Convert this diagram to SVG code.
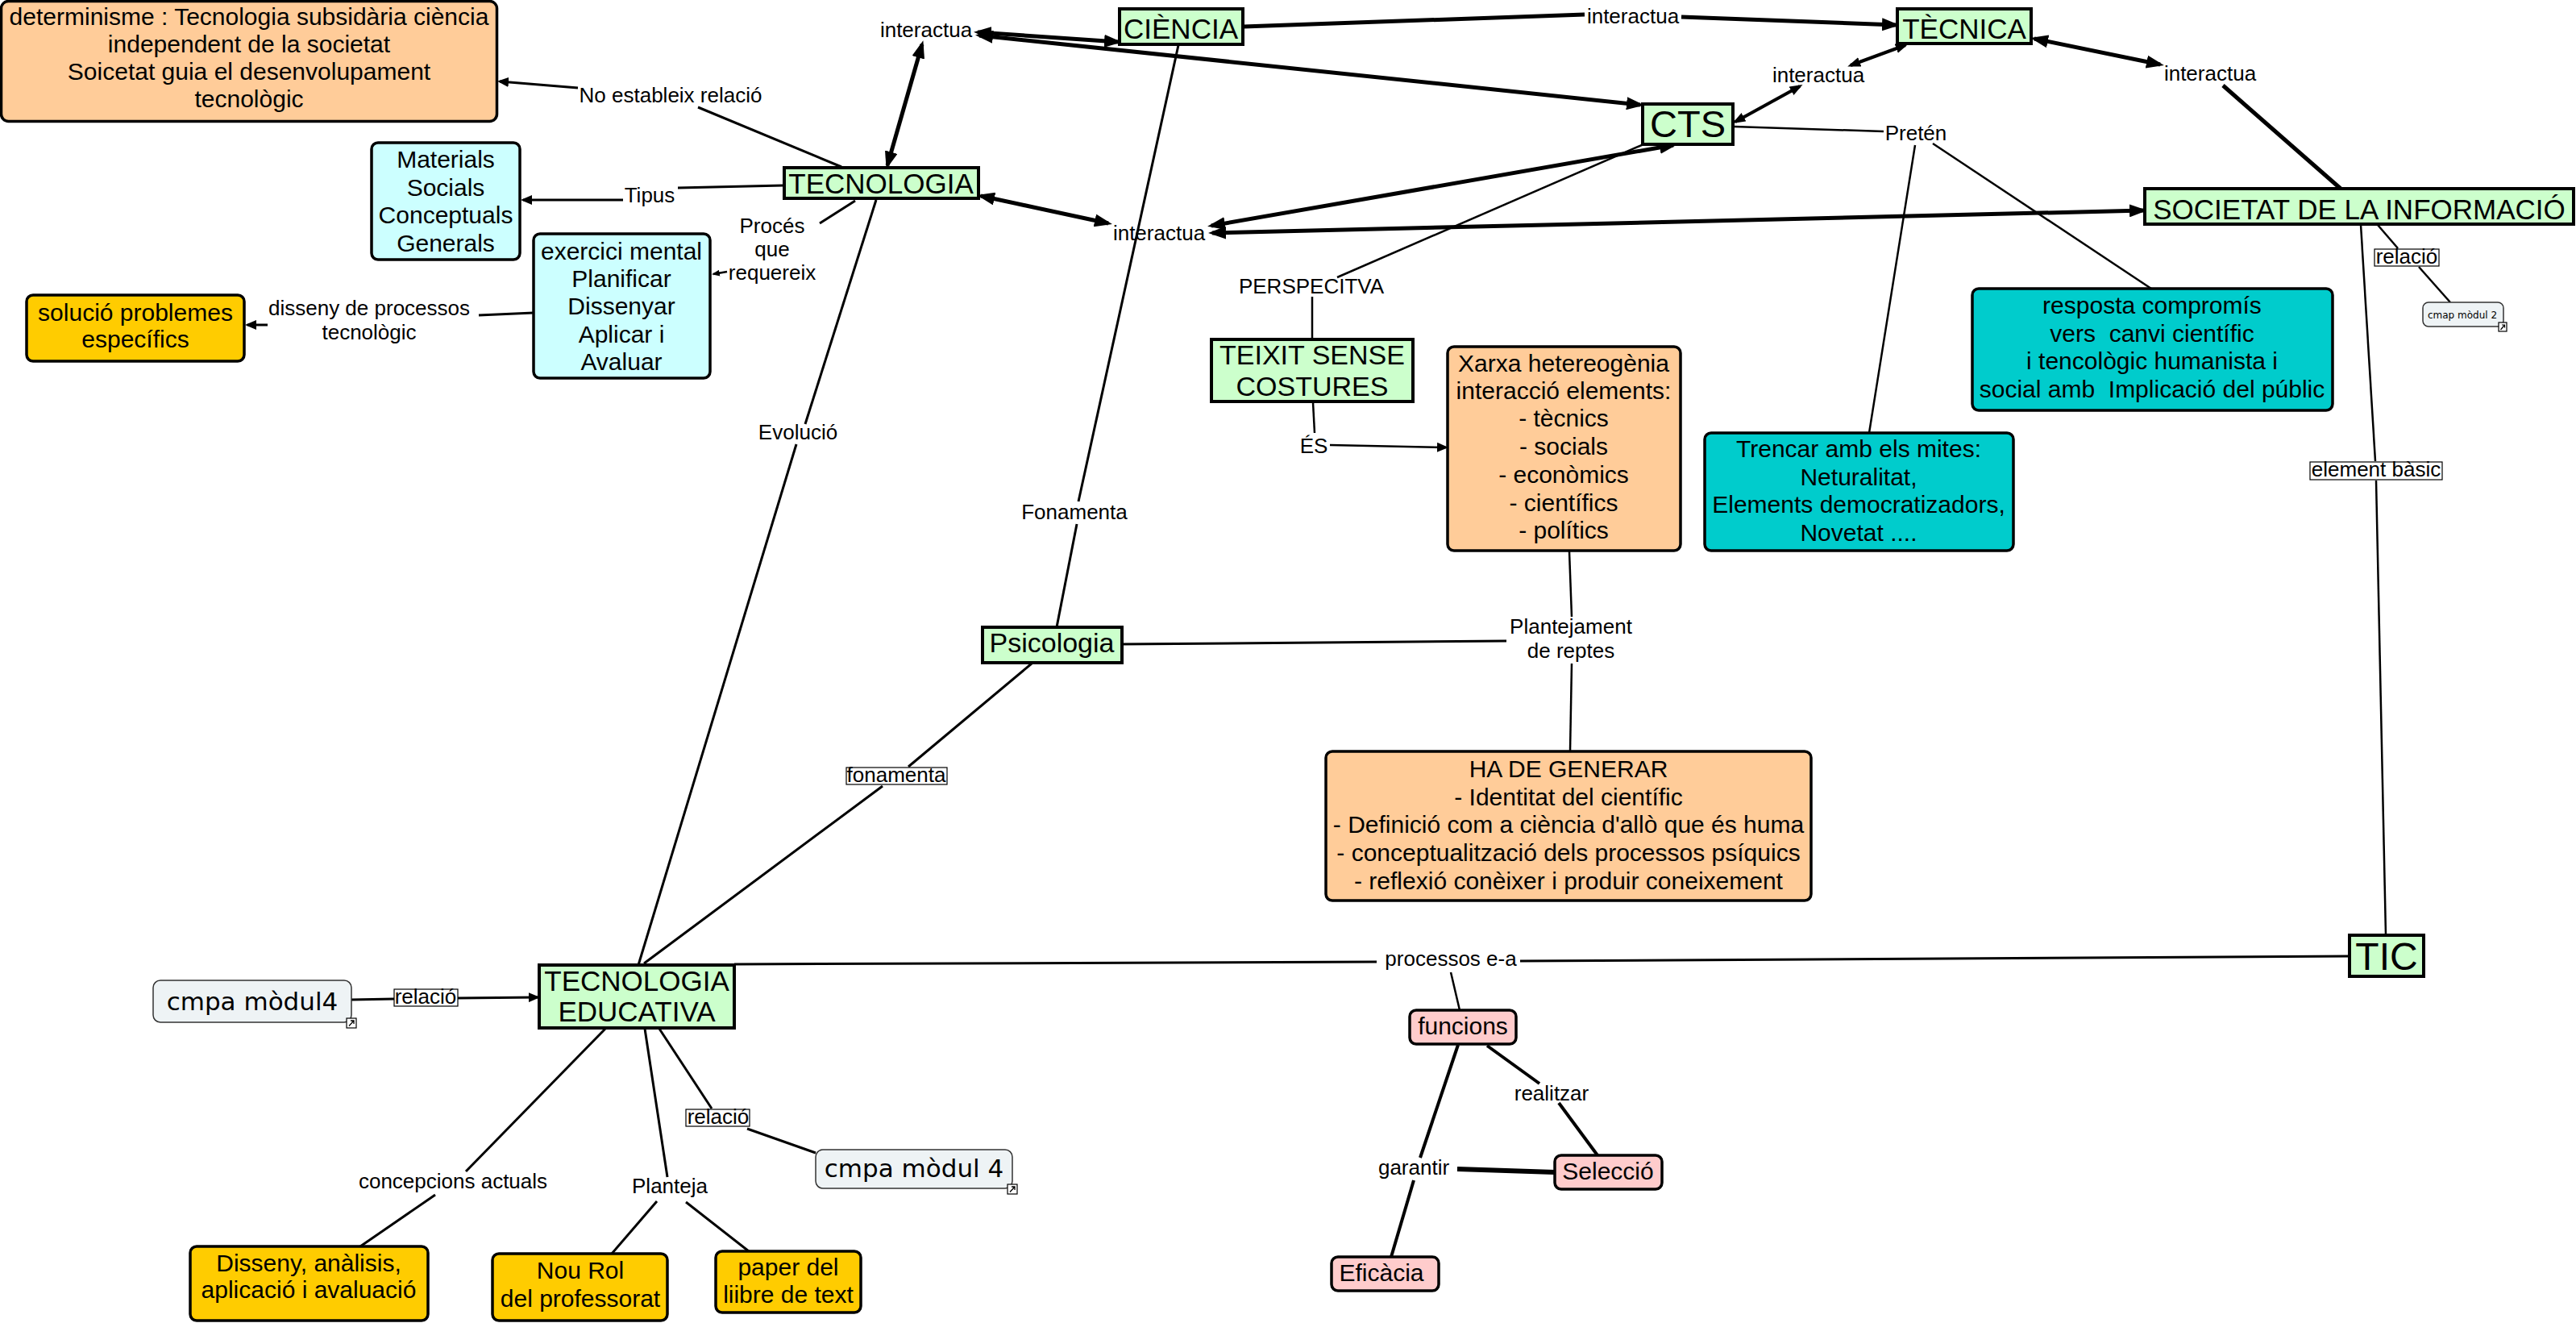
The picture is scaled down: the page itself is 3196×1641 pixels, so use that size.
<svg xmlns="http://www.w3.org/2000/svg" width="3196" height="1641" viewBox="0 0 3196 1641">
<defs>
<style>
.nt{font-family:"Liberation Sans",Arial,sans-serif;font-size:30px;fill:#000;text-anchor:middle}
.gt{font-family:"Liberation Sans",Arial,sans-serif;font-size:35px;fill:#000;text-anchor:middle}
.lt{font-family:"Liberation Sans",Arial,sans-serif;font-size:26px;fill:#000;text-anchor:middle}
.ct{font-family:"DejaVu Sans",Verdana,sans-serif;font-size:31px;fill:#000;text-anchor:middle}
.green{fill:#CCFFCC;stroke:#000;stroke-width:4}
.peach{fill:#FFCC99;stroke:#000;stroke-width:3.5}
.cyan{fill:#CCFFFF;stroke:#000;stroke-width:3.5}
.gold{fill:#FFCC00;stroke:#000;stroke-width:3.5}
.teal{fill:#00CCCC;stroke:#000;stroke-width:3.5}
.pink{fill:#FFCCCC;stroke:#000;stroke-width:3.5}
.cmap{fill:#EEF3F5;stroke:#333;stroke-width:1.5}
.lbox{fill:#fff;stroke:#000;stroke-width:1.2}
.icon{fill:#fff;stroke:#000;stroke-width:1.2}
.c{fill:none;stroke:#000;stroke-linecap:butt}
.w2{stroke-width:2.5}
.w3{stroke-width:3}
.w4{stroke-width:4}
.w5{stroke-width:5}
.w6{stroke-width:6}
.pre{white-space:pre}
</style>
<marker id="ab" viewBox="0 0 22 16" refX="17" refY="8" markerWidth="22" markerHeight="16" markerUnits="userSpaceOnUse" orient="auto-start-reverse"><path d="M0,0 L22,8 L0,16 z" fill="#000"/></marker>
<marker id="am" viewBox="0 0 16 12" refX="12" refY="6" markerWidth="16" markerHeight="12" markerUnits="userSpaceOnUse" orient="auto-start-reverse"><path d="M0,0 L16,6 L0,12 z" fill="#000"/></marker>
<marker id="as" viewBox="0 0 14 12" refX="11" refY="6" markerWidth="14" markerHeight="12" markerUnits="userSpaceOnUse" orient="auto-start-reverse"><path d="M0,0 L14,6 L0,12 z" fill="#000"/></marker>
<marker id="at" viewBox="0 0 10 8" refX="8" refY="4" markerWidth="10" markerHeight="8" markerUnits="userSpaceOnUse" orient="auto-start-reverse"><path d="M0,0 L10,4 L0,8 z" fill="#000"/></marker>
</defs>
<rect x="0" y="0" width="3196" height="1641" fill="#fff"/>

<g id="connectors">
<line class="c w5" x1="1213" y1="40" x2="1387" y2="52" marker-start="url(#ab)" marker-end="url(#ab)"/>
<line class="c w5" x1="1215" y1="44" x2="2035" y2="130" marker-start="url(#ab)" marker-end="url(#ab)"/>
<line class="c w5" x1="1144" y1="55" x2="1101" y2="205" marker-start="url(#ab)" marker-end="url(#ab)"/>
<line class="c w5" x1="1543" y1="33" x2="1966" y2="18"/>
<line class="c w5" x1="2086" y1="21" x2="2352" y2="31" marker-end="url(#ab)"/>
<line class="c w5" x1="2524" y1="48" x2="2680" y2="80" marker-start="url(#ab)" marker-end="url(#ab)"/>
<line class="c w5" x1="2758" y1="106" x2="2904" y2="234"/>
<line class="c w4" x1="2296" y1="81" x2="2364" y2="56" marker-start="url(#am)" marker-end="url(#am)"/>
<line class="c w4" x1="2233" y1="107" x2="2153" y2="151" marker-start="url(#am)" marker-end="url(#am)"/>
<line class="c w5" x1="1217" y1="243" x2="1375" y2="277" marker-start="url(#ab)" marker-end="url(#ab)"/>
<line class="c w5" x1="1503" y1="280" x2="2076" y2="180" marker-start="url(#ab)" marker-end="url(#ab)"/>
<line class="c w5" x1="1504" y1="289" x2="2659" y2="261" marker-start="url(#ab)" marker-end="url(#ab)"/>
<line class="c w3" x1="1044" y1="207" x2="866" y2="133"/>
<line class="c w3" x1="717" y1="109" x2="620" y2="101" marker-end="url(#as)"/>
<line class="c w3" x1="972" y1="230" x2="841" y2="233"/>
<line class="c w3" x1="773" y1="248" x2="649" y2="248" marker-end="url(#as)"/>
<line class="c w3" x1="1061" y1="249" x2="1017" y2="277"/>
<line class="c w2" x1="902" y1="337" x2="885" y2="340" marker-end="url(#at)"/>
<line class="c w3" x1="662" y1="388" x2="594" y2="391"/>
<line class="c w3" x1="332" y1="403" x2="307" y2="403" marker-end="url(#as)"/>
<line class="c w3" x1="1087" y1="248" x2="999" y2="526"/>
<line class="c w3" x1="988" y1="551" x2="792" y2="1197"/>
<line class="c w3" x1="1462" y1="56" x2="1338" y2="622"/>
<line class="c w3" x1="1336" y1="650" x2="1311" y2="778"/>
<line class="c w3" x1="1280" y1="823" x2="1127" y2="951"/>
<line class="c w3" x1="1095" y1="975" x2="799" y2="1195"/>
<line class="c w3" x1="1392" y1="799" x2="1869" y2="795"/>
<line class="c w2" x1="1947" y1="684" x2="1950" y2="765"/>
<line class="c w2" x1="1950" y1="823" x2="1948" y2="932"/>
<line class="c w2" x1="2039" y1="179" x2="1659" y2="344"/>
<line class="c w2" x1="1628" y1="368" x2="1628" y2="421"/>
<line class="c w2" x1="1629" y1="499" x2="1631" y2="537"/>
<line class="c w2" x1="1650" y1="552" x2="1794" y2="555" marker-end="url(#as)"/>
<line class="c w2" x1="2151" y1="157" x2="2337" y2="163"/>
<line class="c w2" x1="2398" y1="178" x2="2669" y2="358"/>
<line class="c w2" x1="2376" y1="180" x2="2319" y2="537"/>
<line class="c w2" x1="2950" y1="279" x2="2975" y2="308"/>
<line class="c w2" x1="3001" y1="331" x2="3040" y2="375"/>
<line class="c w2" x1="2929" y1="279" x2="2947" y2="572"/>
<line class="c w2" x1="2948" y1="596" x2="2960" y2="1160"/>
<line class="c w3" x1="911" y1="1196" x2="1708" y2="1193"/>
<line class="c w3" x1="1886" y1="1192" x2="2915" y2="1186"/>
<line class="c w2" x1="1800" y1="1206" x2="1811" y2="1253"/>
<line class="c w4" x1="1845" y1="1297" x2="1910" y2="1344"/>
<line class="c w4" x1="1934" y1="1368" x2="1982" y2="1433"/>
<line class="c w4" x1="1809" y1="1296" x2="1762" y2="1436"/>
<line class="c w6" x1="1929" y1="1454" x2="1808" y2="1450"/>
<line class="c w4" x1="1754" y1="1464" x2="1726" y2="1559"/>
<line class="c w3" x1="436" y1="1240" x2="489" y2="1239"/>
<line class="c w3" x1="568" y1="1238" x2="667" y2="1237" marker-end="url(#as)"/>
<line class="c w3" x1="751" y1="1276" x2="578" y2="1453"/>
<line class="c w3" x1="540" y1="1482" x2="447" y2="1546"/>
<line class="c w3" x1="800" y1="1276" x2="828" y2="1460"/>
<line class="c w3" x1="815" y1="1490" x2="759" y2="1555"/>
<line class="c w3" x1="851" y1="1491" x2="929" y2="1552"/>
<line class="c w3" x1="818" y1="1276" x2="883" y2="1375"/>
<line class="c w3" x1="927" y1="1400" x2="1012" y2="1430"/>
</g>

<g id="labels">
<text class="lt" x="832" y="127">No estableix relació</text>
<text class="lt" x="806" y="251">Tipus</text>
<text class="lt" x="1149" y="46">interactua</text>
<text class="lt" x="2026" y="29">interactua</text>
<text class="lt" x="2256" y="102">interactua</text>
<text class="lt" x="2742" y="100">interactua</text>
<text class="lt" x="1438" y="298">interactua</text>
<text class="lt"><tspan x="958" y="289">Procés</tspan><tspan x="958" y="318">que</tspan><tspan x="958" y="347">requereix</tspan></text>
<text class="lt"><tspan x="458" y="391">disseny de processos</tspan><tspan x="458" y="421">tecnològic</tspan></text>
<text class="lt" x="990" y="545">Evolució</text>
<text class="lt" x="1333" y="644">Fonamenta</text>
<rect class="lbox" x="1050" y="952" width="125" height="21"/>
<text class="lt" x="1112" y="970">fonamenta</text>
<text class="lt" x="1627" y="364">PERSPECITVA</text>
<text class="lt" x="1630" y="562">ÉS</text>
<text class="lt" x="2377" y="174">Pretén</text>
<text class="lt"><tspan x="1949" y="786">Plantejament</tspan><tspan x="1949" y="816">de reptes</tspan></text>
<rect class="lbox" x="2946" y="309" width="80" height="21"/>
<text class="lt" x="2986" y="327">relació</text>
<rect class="lbox" x="2866" y="573" width="164" height="22"/>
<text class="lt" x="2948" y="591">element bàsic</text>
<text class="lt" x="1800" y="1198">processos e-a</text>
<text class="lt" x="1925" y="1365">realitzar</text>
<text class="lt" x="1754" y="1457">garantir</text>
<rect class="lbox" x="489" y="1227" width="79" height="21"/>
<text class="lt" x="528" y="1245">relació</text>
<text class="lt" x="562" y="1474">concepcions actuals</text>
<text class="lt" x="831" y="1480">Planteja</text>
<rect class="lbox" x="851" y="1376" width="79" height="21"/>
<text class="lt" x="891" y="1394">relació</text>
</g>

<g id="n-determinisme">
<rect class="peach" x="1.5" y="1.5" width="615" height="149" rx="9"/>
<text class="nt"><tspan x="309" y="31">determinisme : Tecnologia subsidària ciència</tspan><tspan x="309" y="65">independent de la societat</tspan><tspan x="309" y="99">Soicetat guia el desenvolupament</tspan><tspan x="309" y="133">tecnològic</tspan></text>
</g>
<g id="n-materials">
<rect class="cyan" x="461" y="177" width="184" height="145" rx="8"/>
<text class="nt"><tspan x="553" y="208">Materials</tspan><tspan x="553" y="243">Socials</tspan><tspan x="553" y="277">Conceptuals</tspan><tspan x="553" y="312">Generals</tspan></text>
</g>
<g id="n-exercici">
<rect class="cyan" x="662" y="290" width="219" height="179" rx="8"/>
<text class="nt"><tspan x="771" y="322">exercici mental</tspan><tspan x="771" y="356">Planificar</tspan><tspan x="771" y="390">Dissenyar</tspan><tspan x="771" y="425">Aplicar i</tspan><tspan x="771" y="459">Avaluar</tspan></text>
</g>
<g id="n-solucio">
<rect class="gold" x="33" y="366" width="270" height="82" rx="8"/>
<text class="nt"><tspan x="168" y="398">solució problemes</tspan><tspan x="168" y="431">específics</tspan></text>
</g>
<g id="n-tecnologia">
<rect class="green" x="973" y="208" width="241" height="38"/>
<text class="gt" x="1093" y="240">TECNOLOGIA</text>
</g>
<g id="n-ciencia">
<rect class="green" x="1389" y="11" width="153" height="44"/>
<text class="gt" x="1465" y="48">CIÈNCIA</text>
</g>
<g id="n-tecnica">
<rect class="green" x="2354" y="11" width="166" height="43"/>
<text class="gt" x="2437" y="48">TÈCNICA</text>
</g>
<g id="n-cts">
<rect class="green" x="2038" y="129" width="112" height="50"/>
<text class="gt" x="2094" y="170" style="font-size:47px">CTS</text>
</g>
<g id="n-societat">
<rect class="green" x="2661" y="234" width="532" height="44"/>
<text class="gt" x="2927" y="272">SOCIETAT DE LA INFORMACIÓ</text>
</g>
<g id="n-cmap2">
<rect class="cmap" x="3006" y="375" width="100" height="30" rx="7"/>
<text class="ct" x="3055" y="395" style="font-size:12px">cmap mòdul 2</text>
<rect class="icon" x="3100" y="400" width="10" height="11"/>
<path d="M3102.5,409 L3107.5,403 M3104,403 L3107.5,403 L3107.5,406.5" fill="none" stroke="#000" stroke-width="1.2"/>
</g>
<g id="n-teixit">
<rect class="green" x="1503" y="421" width="250" height="77"/>
<text class="gt" style="font-size:34px"><tspan x="1628" y="452">TEIXIT SENSE</tspan><tspan x="1628" y="491">COSTURES</tspan></text>
</g>
<g id="n-xarxa">
<rect class="peach" x="1796" y="430" width="289" height="253" rx="8"/>
<text class="nt"><tspan x="1940" y="461">Xarxa hetereogènia</tspan><tspan x="1940" y="495">interacció elements:</tspan><tspan x="1940" y="529">- tècnics</tspan><tspan x="1940" y="564">- socials</tspan><tspan x="1940" y="599">- econòmics</tspan><tspan x="1940" y="634">- científics</tspan><tspan x="1940" y="668">- polítics</tspan></text>
</g>
<g id="n-trencar">
<rect class="teal" x="2115" y="537" width="383" height="146" rx="8"/>
<text class="nt"><tspan x="2306" y="567">Trencar amb els mites:</tspan><tspan x="2306" y="602">Neturalitat,</tspan><tspan x="2306" y="636">Elements democratizadors,</tspan><tspan x="2306" y="671">Novetat ....</tspan></text>
</g>
<g id="n-resposta">
<rect class="teal" x="2447" y="358" width="447" height="151" rx="8"/>
<text class="nt pre"><tspan x="2670" y="389">resposta compromís</tspan><tspan x="2670" y="424">vers  canvi científic</tspan><tspan x="2670" y="458">i tencològic humanista i</tspan><tspan x="2670" y="493">social amb  Implicació del públic</tspan></text>
</g>
<g id="n-psicologia">
<rect class="green" x="1219" y="778" width="173" height="44"/>
<text class="gt" x="1305" y="809" style="font-size:34px">Psicologia</text>
</g>
<g id="n-hadegenerar">
<rect class="peach" x="1645" y="932" width="602" height="185" rx="8"/>
<text class="nt"><tspan x="1946" y="964">HA DE GENERAR</tspan><tspan x="1946" y="999">- Identitat del científic</tspan><tspan x="1946" y="1033">- Definició com a ciència d'allò que és huma</tspan><tspan x="1946" y="1068">- conceptualització dels processos psíquics</tspan><tspan x="1946" y="1103">- reflexió conèixer i produir coneixement</tspan></text>
</g>
<g id="n-tic">
<rect class="green" x="2915" y="1160" width="92" height="51"/>
<text class="gt" x="2961" y="1203" style="font-size:48px">TIC</text>
</g>
<g id="n-tecedu">
<rect class="green" x="669" y="1197" width="242" height="78"/>
<text class="gt"><tspan x="790" y="1229">TECNOLOGIA</tspan><tspan x="790" y="1267">EDUCATIVA</tspan></text>
</g>
<g id="n-cmpa4a">
<rect class="cmap" x="190" y="1216" width="246" height="52" rx="9"/>
<text class="ct" x="313" y="1253">cmpa mòdul4</text>
<rect class="icon" x="430" y="1263" width="12" height="12"/>
<path d="M433,1272.5 L439,1266 M435,1266 L439,1266 L439,1270" fill="none" stroke="#000" stroke-width="1.3"/>
</g>
<g id="n-cmpa4b">
<rect class="cmap" x="1012" y="1426" width="244" height="48" rx="9"/>
<text class="ct" x="1134" y="1460">cmpa mòdul 4</text>
<rect class="icon" x="1250" y="1469" width="12" height="12"/>
<path d="M1253,1478.5 L1259,1472 M1255,1472 L1259,1472 L1259,1476" fill="none" stroke="#000" stroke-width="1.3"/>
</g>
<g id="n-disseny">
<rect class="gold" x="236" y="1546" width="295" height="92" rx="8"/>
<text class="nt"><tspan x="383" y="1577">Disseny, anàlisis,</tspan><tspan x="383" y="1610">aplicació i avaluació</tspan></text>
</g>
<g id="n-nourol">
<rect class="gold" x="611" y="1555" width="217" height="83" rx="8"/>
<text class="nt"><tspan x="720" y="1586">Nou Rol</tspan><tspan x="720" y="1621">del professorat</tspan></text>
</g>
<g id="n-paper">
<rect class="gold" x="888" y="1552" width="180" height="76" rx="8"/>
<text class="nt"><tspan x="978" y="1582">paper del</tspan><tspan x="978" y="1616">liibre de text</tspan></text>
</g>
<g id="n-funcions">
<rect class="pink" x="1749" y="1253" width="132" height="42" rx="8"/>
<text class="nt" x="1815" y="1283">funcions</text>
</g>
<g id="n-seleccio">
<rect class="pink" x="1929" y="1433" width="133" height="42" rx="8"/>
<text class="nt" x="1995" y="1463">Selecció</text>
</g>
<g id="n-eficacia">
<rect class="pink" x="1652" y="1559" width="133" height="42" rx="8"/>
<text class="nt" x="1714" y="1589">Eficàcia</text>
</g>
</svg>
